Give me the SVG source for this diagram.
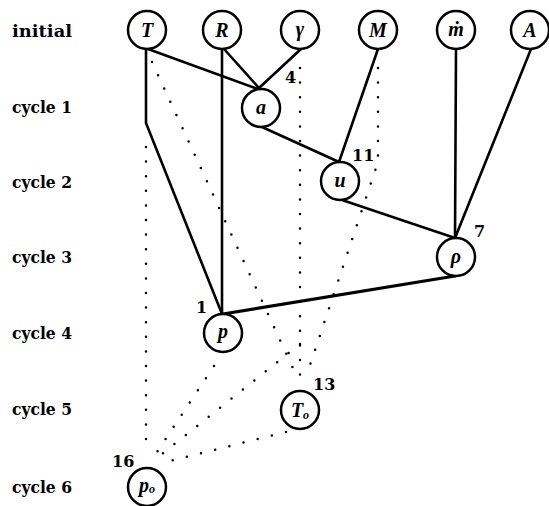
<svg xmlns="http://www.w3.org/2000/svg" width="549" height="506" viewBox="0 0 549 506">
<style>
.row{font-family:"DejaVu Serif","Liberation Serif",serif;font-weight:bold;font-size:16px;fill:#000}
.num{font-family:"DejaVu Serif","Liberation Serif",serif;font-weight:bold;font-size:16px;fill:#000}
.nd circle{fill:#fff;stroke:#000;stroke-width:2.5}
.lab{font-family:"Liberation Serif","DejaVu Serif",serif;font-style:italic;font-weight:bold;font-size:20px;fill:#000;text-anchor:middle}
.sub{font-size:12px}
.solid{fill:none;stroke:#000;stroke-width:2.6;stroke-linecap:round;stroke-linejoin:round}
.dot{fill:none;stroke:#000;stroke-width:2.5;stroke-linecap:round;stroke-dasharray:0 14.6}
</style>
<rect width="549" height="506" fill="#fff"/>
<g id="rows">
<text class="row" x="12" y="37" textLength="60" lengthAdjust="spacingAndGlyphs">initial</text>
<text class="row" x="12" y="113" textLength="60" lengthAdjust="spacingAndGlyphs">cycle 1</text>
<text class="row" x="12" y="188" textLength="60" lengthAdjust="spacingAndGlyphs">cycle 2</text>
<text class="row" x="12" y="263" textLength="60" lengthAdjust="spacingAndGlyphs">cycle 3</text>
<text class="row" x="12" y="339" textLength="60" lengthAdjust="spacingAndGlyphs">cycle 4</text>
<text class="row" x="12" y="415" textLength="60" lengthAdjust="spacingAndGlyphs">cycle 5</text>
<text class="row" x="12" y="493" textLength="60" lengthAdjust="spacingAndGlyphs">cycle 6</text>
</g>
<g id="connectors">
<line class="solid" x1="148" y1="49" x2="258" y2="89"/>
<line class="solid" x1="224" y1="49" x2="259" y2="88"/>
<line class="solid" x1="301" y1="49" x2="259" y2="88"/>
<line class="solid" x1="262" y1="127" x2="339" y2="162"/>
<line class="solid" x1="378" y1="49" x2="339" y2="162"/>
<line class="solid" x1="342" y1="200" x2="455" y2="238"/>
<line class="solid" x1="456" y1="49" x2="455" y2="238"/>
<line class="solid" x1="531" y1="49" x2="455" y2="238"/>
<line class="solid" x1="455" y1="276" x2="223" y2="314" style="stroke-width:3.2"/>
<polyline class="solid" points="146,49 146,123 222,314"/>
<line class="solid" x1="222" y1="49" x2="222" y2="314"/>
<line class="dot" x1="152" y1="62" x2="297" y2="377"/>
<line class="dot" x1="300" y1="68" x2="300" y2="376"/>
<polyline class="dot" points="378,68 378,162 306,377"/>
<line class="dot" x1="146" y1="147" x2="146" y2="452"/>
<line class="dot" x1="300" y1="344" x2="157" y2="458"/>
<line class="dot" x1="214" y1="366" x2="155" y2="455"/>
<line class="dot" x1="286" y1="432" x2="162" y2="463"/>
</g>
<g id="node-T" class="nd"><circle cx="147" cy="30" r="19"/><text class="lab" x="147" y="37">T</text></g>
<g id="node-R" class="nd"><circle cx="222" cy="30" r="19"/><text class="lab" x="222" y="37">R</text></g>
<g id="node-gamma" class="nd"><circle cx="300" cy="30" r="19"/><text class="lab" x="300" y="36">γ</text></g>
<g id="node-M" class="nd"><circle cx="378" cy="30" r="19"/><text class="lab" x="378" y="37">M</text></g>
<g id="node-mdot" class="nd"><circle cx="456" cy="30" r="19"/><text class="lab" x="456" y="36">ṁ</text></g>
<g id="node-A" class="nd"><circle cx="530" cy="30" r="19"/><text class="lab" x="530" y="37">A</text></g>
<g id="node-a" class="nd"><circle cx="261" cy="108" r="19"/><text class="lab" x="261" y="114">a</text></g>
<g id="node-u" class="nd"><circle cx="340" cy="181" r="19"/><text class="lab" x="340" y="187">u</text></g>
<g id="node-rho" class="nd"><circle cx="456" cy="257" r="19"/><text class="lab" x="456" y="263">ρ</text></g>
<g id="node-p" class="nd"><circle cx="223" cy="333" r="19"/><text class="lab" x="223" y="338">p</text></g>
<g id="node-To" class="nd"><circle cx="300" cy="410" r="19"/><text class="lab" x="300" y="417">T<tspan class="sub" dy="2">o</tspan></text></g>
<g id="node-po" class="nd"><circle cx="147" cy="487" r="19"/><text class="lab" x="147" y="492">p<tspan class="sub" dy="1">o</tspan></text></g>
<g id="numbers">
<text class="num" x="285" y="83">4</text>
<text class="num" x="352" y="161">11</text>
<text class="num" x="474" y="237">7</text>
<text class="num" x="196" y="313">1</text>
<text class="num" x="313" y="390">13</text>
<text class="num" x="112" y="467">16</text>
</g>
</svg>
